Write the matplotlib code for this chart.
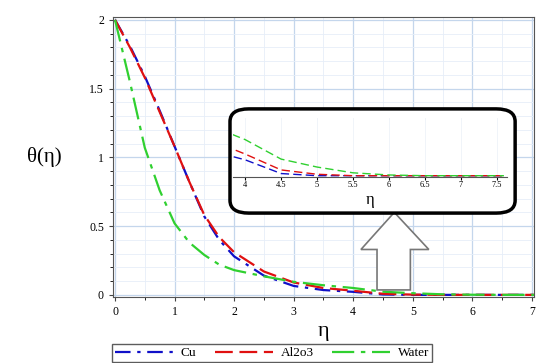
import matplotlib.pyplot as plt
from matplotlib.patches import FancyBboxPatch, Polygon
from matplotlib.ticker import MultipleLocator, FormatStrFormatter

# valores
eta = [0, 0.25, 0.5, 0.75, 1.0, 1.25, 1.5, 1.75, 2.0, 2.5, 3.0, 3.5,
       4.0, 4.5, 5.0, 5.5, 6.0, 6.5, 7.0, 7.6]
theta_cu = [2.0, 1.81, 1.59, 1.34, 1.08, 0.82, 0.57, 0.40, 0.28, 0.14, 0.065,
            0.035, 0.022, 0.003, 0.0, 0.0, 0.0, 0.0, 0.0, 0.0]
theta_al = [2.0, 1.80, 1.58, 1.33, 1.08, 0.82, 0.58, 0.42, 0.31, 0.17, 0.09,
            0.05, 0.03, 0.008, 0.002, 0.0, 0.0, 0.0, 0.0, 0.0]
theta_water = [2.0, 1.55, 1.07, 0.76, 0.52, 0.38, 0.29, 0.22, 0.18, 0.135,
               0.095, 0.07, 0.05, 0.023, 0.012, 0.004, 0.001, 0.0, 0.0, 0.0]
labels = ['Cu', 'Al2o3', 'Water']

plt.rcParams['font.family'] = ['Liberation Serif', 'DejaVu Serif']

fig = plt.figure(figsize=(5.38, 3.63), dpi=100)
ax = fig.add_axes([0.210, 0.182, 0.783, 0.771])

estilos = [('#1010c8', (0, (7, 3, 1.5, 3))),
           ('#e01010', (0, (8, 3))),
           ('#30d030', (0, (10, 3, 2, 3)))]
series = [theta_cu, theta_al, theta_water]

for ys, lab, (c, ls) in zip(series, labels, estilos):
    ax.plot(eta, ys, color=c, linestyle=ls, lw=1.6, label=lab)

ax.set_xlim(-0.034, 7.04)
ax.set_ylim(-0.015, 2.02)
ax.xaxis.set_major_locator(MultipleLocator(1))
ax.xaxis.set_minor_locator(MultipleLocator(0.5))
ax.yaxis.set_major_locator(MultipleLocator(0.5))
ax.yaxis.set_minor_locator(MultipleLocator(0.1))
ax.yaxis.set_major_formatter(FormatStrFormatter('%g'))
ax.grid(True, which='major', color='#c4d6ec', lw=0.9)
ax.grid(True, which='minor', color='#e6eef8', lw=0.6)
ax.set_axisbelow(True)
ax.tick_params(labelsize=8.5, length=3, color='#444444')
ax.tick_params(which='minor', length=2)
for s in ax.spines.values():
    s.set_color('#555555')
ax.set_xlabel('η', fontsize=16, labelpad=3)
ax.set_ylabel('θ(η)', fontsize=15, rotation=0, labelpad=32, va='center')

# flecha hueca
flecha = Polygon([(4.40, 0.036), (4.96, 0.036), (4.96, 0.33), (5.27, 0.33),
                  (4.69, 0.60), (4.13, 0.33), (4.40, 0.33)],
                 closed=True, facecolor='white', edgecolor='#777777', lw=1.2,
                 zorder=5)
ax.add_patch(flecha)

# caja redondeada del zoom
caja = FancyBboxPatch((0.4275, 0.413), 0.53, 0.287,
                      boxstyle='round,pad=0,rounding_size=0.035',
                      transform=fig.transFigure, facecolor='white',
                      edgecolor='black', lw=2.5, zorder=6)
fig.patches.append(caja)

ins = fig.add_axes([0.433, 0.512, 0.509, 0.163], zorder=7)
ins.patch.set_alpha(0)
for ys, (c, ls) in zip(series, estilos):
    ins.plot(eta, ys, color=c, linestyle=(0, (6, 3)), lw=1.0)
ins.set_xlim(3.83, 7.64)
ins.set_ylim(-0.002, 0.08)
ins.set_yticks([])
ins.set_xticks([4, 4.5, 5, 5.5, 6, 6.5, 7, 7.5])
ins.set_xticklabels(['4', '4.5', '5', '5.5', '6', '6.5', '7', '7.5'])
ins.grid(True, axis='x', color='#eef2f8', lw=0.6)
for k in ['left', 'right', 'top']:
    ins.spines[k].set_visible(False)
ins.spines['bottom'].set_color('#555555')
ins.tick_params(labelsize=6, length=2, pad=1)
ins.set_xlabel('η', fontsize=12, labelpad=2)

fig.legend(loc='lower left', bbox_to_anchor=(0.208, 0.003), ncol=3,
           fontsize=9.5, frameon=True, fancybox=False, edgecolor='#333333',
           handlelength=4.4, columnspacing=1.4, borderpad=0.2,
           handletextpad=0.6, borderaxespad=0)

plt.savefig('out.png', dpi=100)
plt.close()
